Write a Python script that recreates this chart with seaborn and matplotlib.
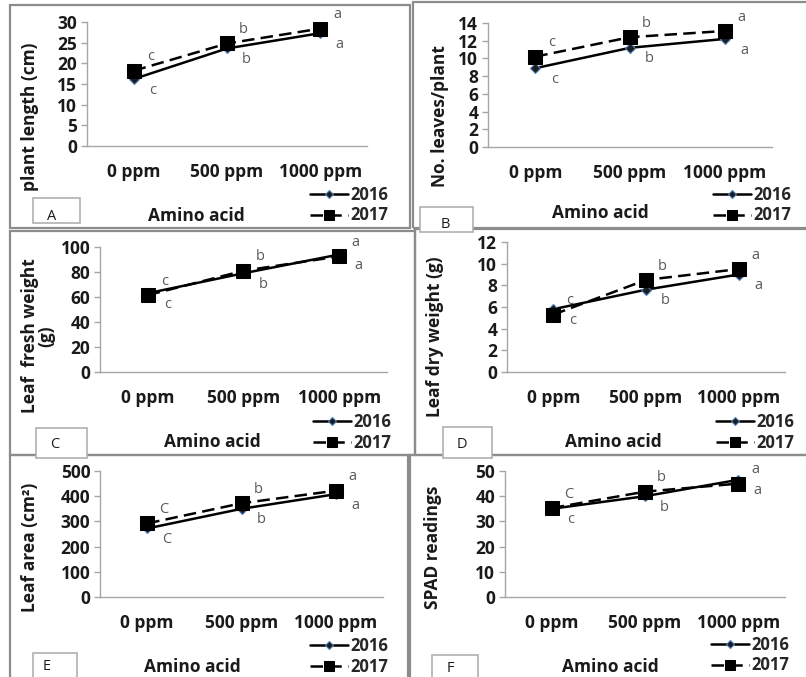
import numpy as np
import pandas as pd
import matplotlib
matplotlib.use('Agg')
import matplotlib.pyplot as plt
import seaborn as sns
from matplotlib.patches import Rectangle

# data
doses = ['0 ppm', '500 ppm', '1000 ppm']
years = ['2016', '2017']

plant_length_2016 = [16.2, 23.6, 27.3]
plant_length_2017 = [18.2, 24.8, 28.4]
leaves_2016 = [8.9, 11.2, 12.2]
leaves_2017 = [10.2, 12.4, 13.1]
fresh_weight_2016 = [63, 79, 94]
fresh_weight_2017 = [61.5, 81, 92.5]
dry_weight_2016 = [5.8, 7.6, 9.0]
dry_weight_2017 = [5.3, 8.5, 9.5]
leaf_area_2016 = [272, 350, 408]
leaf_area_2017 = [292, 372, 422]
spad_2016 = [35.0, 40.0, 46.5]
spad_2017 = [35.3, 41.8, 45.0]

letters_2016 = {'A': ['c', 'b', 'a'], 'B': ['c', 'b', 'a'], 'C': ['c', 'b', 'a'],
                'D': ['c', 'b', 'a'], 'E': ['C', 'b', 'a'], 'F': ['c', 'b', 'a']}
letters_2017 = {'A': ['c', 'b', 'a'], 'B': ['c', 'b', 'a'], 'C': ['c', 'b', 'a'],
                'D': ['c', 'b', 'a'], 'E': ['C', 'b', 'a'], 'F': ['C', 'b', 'a']}

sns.set_theme(style='white')
plt.rcParams['font.family'] = ['Open Sans', 'DejaVu Sans']

W, H = 806, 677
fig = plt.figure(figsize=(W / 100, H / 100), dpi=100)

def fx(x):
    return x / W

def fy(y):
    return 1 - y / H

def px_rect(l, t, r, b):
    return [l / W, 1 - b / H, (r - l) / W, (b - t) / H]

# panel layout in pixels
panels = [
    dict(key='A', ylabel='plant length (cm)', v16=plant_length_2016, v17=plant_length_2017, ymax=30, step=5,
         ax=(87, 22, 367, 146), ylab=(30, 117), xlab=(196, 216), leg=(310, 186),
         border=(10, 5, 410, 228), lbox=(33, 198, 80, 223), lpos=(52, 217)),
    dict(key='B', ylabel='No. leaves/plant', v16=leaves_2016, v17=leaves_2017, ymax=14, step=2,
         ax=(488, 23, 772, 147), ylab=(440, 116), xlab=(600, 213), leg=(713, 186),
         border=(413, 2, 812, 228), lbox=(420, 207, 473, 232), lpos=(445, 225)),
    dict(key='C', ylabel='Leaf  fresh weight\n(g)', v16=fresh_weight_2016, v17=fresh_weight_2017, ymax=100, step=20,
         ax=(100, 247, 387, 372), ylab=(38, 336), xlab=(212, 442), leg=(313, 413),
         border=(10, 231, 415, 455), lbox=(36, 428, 87, 458), lpos=(55, 444)),
    dict(key='D', ylabel='Leaf dry weight (g)', v16=dry_weight_2016, v17=dry_weight_2017, ymax=12, step=2,
         ax=(507, 242, 785, 372), ylab=(435, 337), xlab=(613, 442), leg=(716, 413),
         border=(415, 229, 812, 455), lbox=(443, 427, 492, 458), lpos=(462, 445)),
    dict(key='E', ylabel='Leaf area (cm²)', v16=leaf_area_2016, v17=leaf_area_2017, ymax=500, step=100,
         ax=(100, 471, 383, 597), ylab=(30, 547), xlab=(192, 667), leg=(310, 637),
         border=(10, 455, 408, 690), lbox=(33, 653, 77, 690), lpos=(47, 667)),
    dict(key='F', ylabel='SPAD readings', v16=spad_2016, v17=spad_2017, ymax=50, step=10,
         ax=(505, 471, 785, 597), ylab=(433, 547), xlab=(610, 667), leg=(711, 636),
         border=(410, 455, 812, 690), lbox=(432, 655, 478, 690), lpos=(450, 668)),
]

grey = '#a6a6a6'
bold = dict(fontsize=12.5, fontweight='bold', color='#1a1a1a')

for p in panels:
    # panel frame
    l, t, r, b = p['border']
    fig.patches.append(Rectangle((fx(l), fy(b)), (r - l) / W, (b - t) / H, transform=fig.transFigure,
                                 fill=False, edgecolor='#8c8c8c', linewidth=1.6, zorder=0))

    df = pd.DataFrame({'Dose': doses * 2,
                       'Value': list(p['v16']) + list(p['v17']),
                       'Year': [years[0]] * 3 + [years[1]] * 3})
    ax = fig.add_axes(px_rect(*p['ax']))
    ax.set_facecolor('none')
    sns.lineplot(data=df, x='Dose', y='Value', hue='Year', style='Year', ax=ax, sort=False,
                 palette={'2016': 'black', '2017': 'black'},
                 markers={'2016': 'D', '2017': 's'},
                 dashes={'2016': '', '2017': (5, 2.5)},
                 linewidth=1.8, legend=False)
    l16, l17 = ax.lines[0], ax.lines[1]
    l16.set_markersize(5)
    l16.set_markerfacecolor('#1c1c1c')
    l16.set_markeredgecolor('#4f81bd')
    l16.set_markeredgewidth(0.8)
    l17.set_markersize(10.5)
    l17.set_markeredgecolor('black')
    l17.set_zorder(3)

    ax.set_xlim(-0.5, 2.5)
    ax.set_ylim(0, p['ymax'])
    ax.set_yticks(np.arange(0, p['ymax'] + 0.1, p['step']))
    ax.set_xlabel('')
    ax.set_ylabel('')
    for s in ['top', 'right']:
        ax.spines[s].set_visible(False)
    for s in ['left', 'bottom']:
        ax.spines[s].set_color(grey)
        ax.spines[s].set_linewidth(1)
    ax.tick_params(axis='x', length=0, pad=12)
    ax.tick_params(axis='y', length=4, color=grey, width=1, pad=3, left=True)
    for lab in ax.get_xticklabels() + ax.get_yticklabels():
        lab.set_fontsize(12.5)
        lab.set_fontweight('bold')
        lab.set_color('#1a1a1a')

    # significance letters
    for i in range(3):
        ax.annotate(letters_2017[p['key']][i], (i, p['v17'][i]), xytext=(12, 10),
                    textcoords='offset points', fontsize=10.5, color='#595959', ha='center', va='center')
        ax.annotate(letters_2016[p['key']][i], (i, p['v16'][i]), xytext=(14, -8),
                    textcoords='offset points', fontsize=10.5, color='#595959', ha='center', va='center')

    # legend below the plot, at the right
    ax.legend(handles=[l16, l17], labels=years, loc='upper left',
              bbox_to_anchor=(fx(p['leg'][0]), fy(p['leg'][1])), bbox_transform=fig.transFigure,
              frameon=False, borderpad=0, borderaxespad=0, handlelength=2.3, handletextpad=0.1,
              labelspacing=0.15, markerscale=0.75, prop=dict(size=12, weight='bold'))

    fig.text(fx(p['ylab'][0]), fy(p['ylab'][1]), p['ylabel'], rotation=90, ha='center', va='center',
             linespacing=0.9, **bold)
    fig.text(fx(p['xlab'][0]), fy(p['xlab'][1]), 'Amino acid', ha='center', va='center', **bold)

    # small label box with panel letter
    l, t, r, b = p['lbox']
    fig.patches.append(Rectangle((fx(l), fy(b)), (r - l) / W, (b - t) / H, transform=fig.transFigure,
                                 facecolor='white', edgecolor='#b0b0b0', linewidth=1.2, zorder=1))
    fig.text(fx(p['lpos'][0]), fy(p['lpos'][1]), p['key'], ha='center', va='center', fontsize=10.5,
             color='#1a1a1a', zorder=2)

fig.savefig('out.png', dpi=100)
